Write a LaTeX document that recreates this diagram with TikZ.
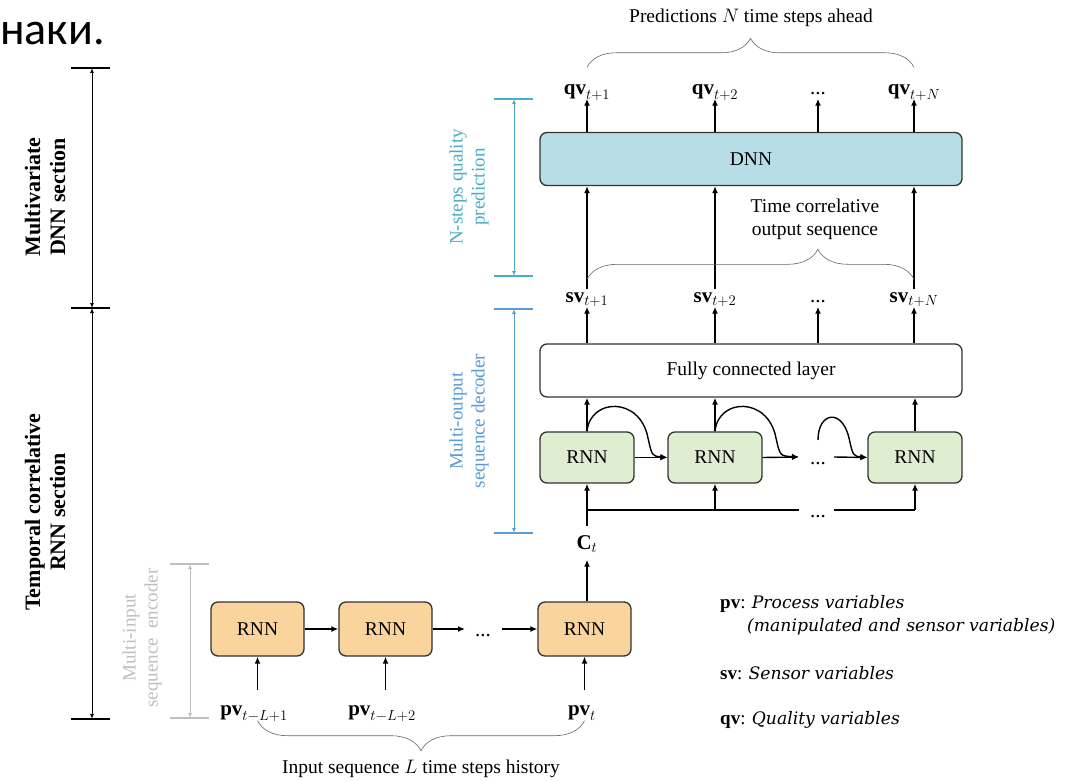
\RequirePackage{fix-cm}
\documentclass[tikz,border=0pt]{standalone}
\usepackage{amsmath}
\usepackage{fontspec}
\setmainfont{Liberation Serif}
\newfontfamily\slidefont{Carlito}
\newfontfamily\legendfont{DejaVu Serif}
\usepackage{tikz}
\usetikzlibrary{positioning}
\usetikzlibrary{arrows.meta}
\usetikzlibrary{decorations.pathreplacing}
\usetikzlibrary{calc}

\definecolor{encfill}{HTML}{F9D49D}
\definecolor{decfill}{HTML}{DFEDD0}
\definecolor{dnnfill}{HTML}{B7DEE6}
\definecolor{qcyan}{HTML}{4BACC6}
\definecolor{dblue}{HTML}{5B9BD5}
\definecolor{egray}{HTML}{BFBFBF}

\tikzset{
  blk/.style={draw=black!80, line width=1.3pt, rounded corners=7pt, inner sep=0pt,
    font=\fontsize{19.5}{22}\selectfont},
  encbox/.style={blk, fill=encfill, minimum width=93pt, minimum height=54pt},
  decbox/.style={blk, fill=decfill, minimum width=94pt, minimum height=51pt},
  widebox/.style={blk, minimum width=422pt, minimum height=53pt},
  lbl/.style={inner sep=0pt, text height=13pt, text depth=4pt, font=\fontsize{21}{24}\selectfont},
  arr/.style={-{Latex[length=7pt,width=6pt]}, line width=1.4pt},
  dim/.style={{Latex[length=5pt,width=4pt]}-{Latex[length=5pt,width=4pt]}, line width=1pt},
  tick/.style={line width=1.6pt},
  brc/.style={decorate, line width=0.6pt, draw=black!60},
  sect/.style={rotate=90, align=center, font=\bfseries\fontsize{22}{25}\selectfont},
  part/.style={rotate=90, align=center, font=\fontsize{19}{22}\selectfont},
  txt/.style={font=\fontsize{19.5}{23}\selectfont},
  leg/.style={anchor=west, inner sep=0pt, font=\fontsize{19}{22}\selectfont},
  legit/.style={font=\legendfont\itshape\fontsize{17.2}{20}\selectfont}
}

\begin{document}
\begin{tikzpicture}[x=1pt,y=-1pt]
\useasboundingbox (0,0) rectangle (1092,781);

\node[anchor=base west, inner sep=0pt, font=\slidefont\fontsize{46}{50}\selectfont] (slide) at (0,45) {наки.};

\coordinate (ka) at (92,68);
\coordinate (kb) at (92,308);
\coordinate (kc) at (92,719);
\draw[tick] (71,68) -- (110,68);
\draw[tick] (71,308) -- (110,308);
\draw[tick] (71,719) -- (110,719);
\draw[dim] (ka) -- (kb);
\draw[dim] (kb) -- (kc);
\node[sect] (dnnsec) at (45,197) {Multivariate\\DNN section};
\node[sect] (rnnsec) at (45,512) {Temporal correlative\\RNN section};

\coordinate (ga) at (190,564);
\coordinate (gb) at (190,718);
\draw[tick, egray, line width=1.3pt] (170,564) -- (209,564);
\draw[tick, egray, line width=1.3pt] (170,718) -- (209,718);
\draw[dim, egray] (ga) -- (gb);
\node[part, egray] (enclab) at (142,638) {Multi-input\\sequence\ \ encoder};

\coordinate (ca) at (514,99);
\coordinate (cb) at (514,276);
\draw[tick, qcyan, line width=1.3pt] (494,99) -- (533,99);
\draw[tick, qcyan, line width=1.3pt] (494,276) -- (533,276);
\draw[dim, qcyan] (ca) -- (cb);
\node[part, qcyan] (qlab) at (469,187) {N-steps quality\\prediction};

\coordinate (ba) at (514,309);
\coordinate (bb) at (514,533);
\draw[tick, dblue, line width=1.3pt] (494,309) -- (533,309);
\draw[tick, dblue, line width=1.3pt] (494,533) -- (533,533);
\draw[dim, dblue] (ba) -- (bb);
\node[part, dblue] (declab) at (469,421) {Multi-output\\sequence decoder};

\node[encbox] (enc1) at (257.5,629) {RNN};
\node[encbox] (enc2) at (385.5,629) {RNN};
\node[encbox] (enc3) at (584.5,629) {RNN};

\node[lbl] (pv1) at (254,711) {$\mathbf{pv}_{t-L+1}$};
\node[lbl] (pv2) at (382,711) {$\mathbf{pv}_{t-L+2}$};
\node[lbl] (pvt) at (582,711) {$\mathbf{pv}_{t}$};

\draw[arr] (enc1.east) -- (enc2.west);
\coordinate (eg1) at (465,629);
\coordinate (eg2) at (502,629);
\draw[arr] (enc2.east) -- (eg1);
\node[lbl] (edots) at (483,632) {...};
\draw[arr] (eg2) -- (enc3.west);

\draw[arr, shorten <=12pt] (enc1.south |- pv1.north) -- (enc1.south);
\draw[arr, shorten <=12pt] (enc2.south |- pv2.north) -- (enc2.south);
\draw[arr, shorten <=12pt] (pvt.north -| enc3.south) -- (enc3.south);

\draw[brc, decoration={brace, amplitude=30pt}] ([yshift=-1pt]pvt.south -| enc3.south) -- ([yshift=-1pt]enc1.south |- pv1.south);
\node[txt] (inlab) at (421,769) {Input sequence $L$ time steps history};

\node[lbl] (ct) at (587,545) {$\mathbf{C}_{t}$};
\draw[arr, shorten >=6pt] (enc3.north -| ct.south) -- (ct.south);

\node[decbox] (dec1) at (587,457.5) {RNN};
\node[decbox] (dec2) at (715,457.5) {RNN};
\node[decbox] (dec3) at (915,457.5) {RNN};

\coordinate (bus) at (587,510);
\coordinate (bg1) at (799,510);
\coordinate (bg2) at (834,510);
\draw[arr, shorten <=10pt] (ct.north) -- (dec1.south);
\draw[line width=1.3pt] (bus) -- (bg1);
\draw[line width=1.3pt] (bg2) -- (dec3.south |- bus);
\draw[arr] (dec2.south |- bus) -- (dec2.south);
\draw[arr] (dec3.south |- bus) -- (dec3.south);
\node[lbl] (bdots) at (818,513) {...};

\coordinate (dg1) at (799,457);
\coordinate (dg2) at (834,457);
\coordinate (dloop) at (818,440);
\draw[arr] (dec1.east) -- (dec2.west);
\draw[arr] (dec2.east) -- (dg1);
\node[lbl] (ddots) at (818,460) {...};
\draw[arr] (dg2) -- (dec3.west);

\draw[arr] (dec1.north) .. controls (590,398) and (640,396) .. (648,438) .. controls (652,456) .. (dec2.west);
\draw[arr] (dec2.north) .. controls (718,398) and (768,396) .. (776,438) .. controls (780,456) .. (dg1);
\draw[arr] (dloop) .. controls (818,412) and (842,408) .. (849,438) .. controls (853,456) .. (dec3.west);

\node[widebox] (fc) at (751,370.5) {Fully connected layer};
\draw[arr] (dec1.north) -- (dec1.north |- fc.south);
\draw[arr] (dec2.north) -- (dec2.north |- fc.south);
\draw[arr] (dec3.north) -- (dec3.north |- fc.south);

\node[lbl] (sv1) at (587,298) {$\mathbf{sv}_{t+1}$};
\node[lbl] (sv2) at (715,298) {$\mathbf{sv}_{t+2}$};
\node[lbl] (svd) at (818,298) {...};
\node[lbl] (svn) at (914,298) {$\mathbf{sv}_{t+N}$};

\draw[arr] (sv1.south |- fc.north) -- (sv1.south);
\draw[arr] (sv2.south |- fc.north) -- (sv2.south);
\draw[arr] (svd.south |- fc.north) -- (svd.south);
\draw[arr] (svn.south |- fc.north) -- (svn.south);

\node[widebox, fill=dnnfill] (dnn) at (751,159) {DNN};
\draw[arr] (sv1.north) -- (sv1.north |- dnn.south);
\draw[arr] (sv2.north) -- (sv2.north |- dnn.south);
\draw[arr] (svn.north) -- (svn.north |- dnn.south);

\draw[brc, decoration={brace, amplitude=30pt, aspect=0.706}] ([yshift=10pt]sv1.north) -- ([yshift=10pt]svn.north);
\node[txt, align=center] (tclab) at (815,219) {Time correlative\\output sequence};

\node[lbl] (qv1) at (587,90) {$\mathbf{qv}_{t+1}$};
\node[lbl] (qv2) at (715,90) {$\mathbf{qv}_{t+2}$};
\node[lbl] (qvd) at (818,90) {...};
\node[lbl] (qvn) at (914,90) {$\mathbf{qv}_{t+N}$};

\draw[arr] (qv1.south |- dnn.north) -- (qv1.south);
\draw[arr] (qv2.south |- dnn.north) -- (qv2.south);
\draw[arr] (qvd.south |- dnn.north) -- (qvd.south);
\draw[arr] (qvn.south |- dnn.north) -- (qvn.south);

\draw[brc, decoration={brace, amplitude=29pt}] ([yshift=14pt]qv1.north) -- ([yshift=14pt]qvn.north);
\node[txt] (predlab) at (751,18) {Predictions $N$ time steps ahead};

\node[leg] (lpv) at (720,604) {\textbf{pv}: {\legendfont\itshape\fontsize{17.2}{20}\selectfont Process variables}};
\node[leg, legit] (lpv2) at (747,627) {(manipulated and sensor variables)};
\node[leg] (lsv) at (720,673) {\textbf{sv}: {\legendfont\itshape\fontsize{17.2}{20}\selectfont Sensor variables}};
\node[leg] (lqv) at (720,720) {\textbf{qv}: {\legendfont\itshape\fontsize{17.2}{20}\selectfont Quality variables}};
\end{tikzpicture}
\end{document}
